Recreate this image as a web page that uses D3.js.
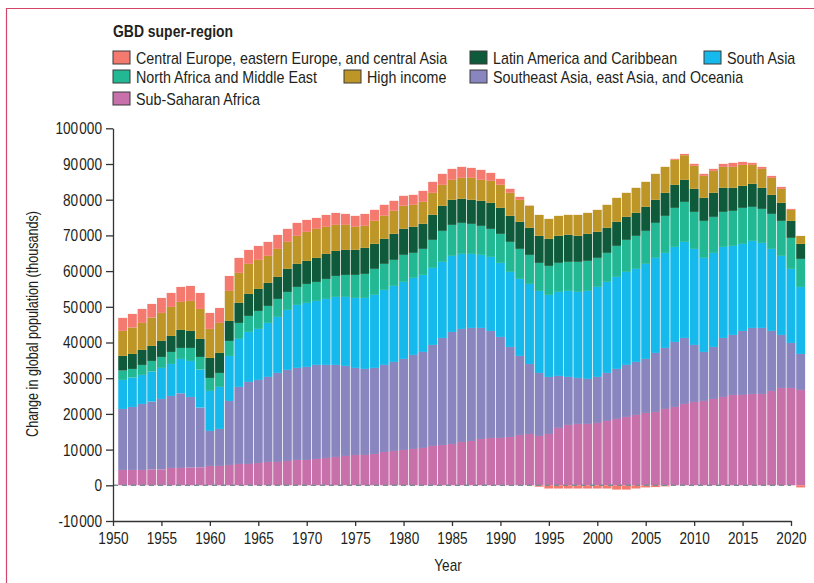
<!DOCTYPE html>
<html>
<head>
<meta charset="utf-8">
<script src="https://cdn.jsdelivr.net/npm/d3@7"></script>
<style>
  body { margin: 0; background: #fff; }
  svg text { font-family: "Liberation Sans", Arial, sans-serif; fill: #231f20; }
</style>
</head>
<body>
<div id="chart"></div>
<script>
// Change in global population by GBD super-region (thousands)
const years = [1951, 1952, 1953, 1954, 1955, 1956, 1957, 1958, 1959, 1960,
    1961, 1962, 1963, 1964, 1965, 1966, 1967, 1968, 1969, 1970,
    1971, 1972, 1973, 1974, 1975, 1976, 1977, 1978, 1979, 1980,
    1981, 1982, 1983, 1984, 1985, 1986, 1987, 1988, 1989, 1990,
    1991, 1992, 1993, 1994, 1995, 1996, 1997, 1998, 1999, 2000,
    2001, 2002, 2003, 2004, 2005, 2006, 2007, 2008, 2009, 2010,
    2011, 2012, 2013, 2014, 2015, 2016, 2017, 2018, 2019, 2020, 2021];

const subSaharanAfrica = [4300, 4300, 4300, 4480, 4480, 4860, 4860, 5040, 5040, 5420,
    5420, 5700, 5980, 5980, 6260, 6540, 6540, 6820, 7100, 7100,
    7380, 7660, 7940, 8220, 8500, 8500, 8780, 9340, 9620, 9900,
    10180, 10460, 11020, 11300, 11580, 12140, 12420, 12980, 13260, 13260,
    13540, 14100, 14380, 13820, 14380, 16070, 16910, 17190, 17190, 17470,
    18030, 18590, 19150, 19710, 20270, 20550, 21390, 21950, 22790, 23350,
    23630, 24190, 24750, 25310, 25310, 25590, 25590, 26430, 27270, 27270, 26710];

const southeastAsia = [17090, 17650, 18490, 18960, 19710, 20170, 20920, 19710, 16720, 9810,
    10370, 17930, 21580, 22980, 23260, 23820, 24940, 25500, 25780, 26060,
    26340, 26060, 25780, 25220, 24380, 24100, 24100, 24380, 24940, 25500,
    26340, 26900, 28300, 29980, 31380, 31660, 31660, 31100, 29980, 28300,
    25220, 22140, 19610, 17650, 15970, 14570, 13450, 12890, 12610, 12890,
    13450, 14010, 14570, 14850, 15130, 16530, 17090, 18210, 18490, 15970,
    13730, 14570, 16530, 16810, 17930, 18490, 18490, 16810, 14850, 12610, 10090];

const southAsia = [8130, 8220, 8130, 8410, 8690, 8970, 9620, 10090, 10650, 11210,
    11770, 12610, 13450, 14010, 14290, 15130, 15690, 16810, 17650, 17930,
    17930, 18490, 19050, 19330, 19610, 19890, 20460, 21020, 21300, 21580,
    21580, 21580, 21580, 21300, 21300, 21020, 20740, 20460, 20740, 20740,
    21020, 21580, 22420, 22980, 22980, 23540, 24100, 24100, 24660, 25220,
    25500, 25780, 26060, 26060, 26620, 26620, 26620, 26620, 26900, 26900,
    26340, 26340, 25500, 24940, 24380, 24380, 23820, 22980, 22140, 20740, 18770];

const northAfricaMiddleEast = [2620, 2430, 2800, 2990, 3080, 3360, 3080, 3640, 3550, 3640,
    3920, 4200, 4480, 4480, 5040, 4760, 5040, 5040, 5040, 5320,
    5320, 5600, 5880, 6160, 6450, 6730, 7290, 7290, 7290, 7570,
    7010, 7290, 7850, 8690, 8690, 8690, 8410, 8130, 7850, 8130,
    8410, 8410, 8130, 7850, 8130, 8130, 8130, 8410, 8410, 8130,
    8130, 8690, 8970, 9250, 9250, 9810, 10370, 10930, 11210, 10370,
    10370, 10090, 9810, 9810, 10090, 9530, 9530, 9810, 9810, 8690, 7850];

const latinAmerica = [4110, 4200, 4200, 4200, 4480, 4480, 5040, 4760, 5040, 5600,
    5600, 5600, 5600, 6160, 6160, 6450, 6160, 6450, 6450, 6450,
    6730, 7010, 7010, 7010, 7010, 7290, 7010, 7010, 7290, 7290,
    7290, 7010, 7010, 7010, 7010, 6730, 6730, 7010, 7290, 7290,
    7290, 7570, 7570, 7570, 7570, 7570, 7570, 7290, 7570, 7290,
    7010, 6730, 6450, 6450, 6730, 6450, 6450, 6450, 6160, 6450,
    6450, 6730, 6730, 6450, 6160, 6450, 5880, 5320, 5040, 4760, 4200];

const highIncome = [7010, 7380, 7570, 7940, 7850, 8130, 7850, 8410, 8410, 8130,
    8410, 8410, 8410, 8410, 8130, 7570, 7850, 7570, 7850, 8130,
    8130, 7570, 7290, 7010, 6450, 6160, 6450, 6450, 6450, 6450,
    6160, 6160, 6160, 5880, 5600, 5880, 6160, 5880, 6160, 6450,
    6450, 6160, 6160, 5880, 5600, 5600, 5600, 5880, 5880, 6160,
    6450, 6730, 6730, 7010, 7010, 7290, 7290, 7010, 6910, 6450,
    6160, 6160, 5880, 5880, 5880, 5320, 5320, 4760, 3920, 3080, 2240];

const centralEurope = [3640, 3830, 3920, 3830, 4200, 3920, 4200, 4200, 4480, 4480,
    4200, 4200, 4200, 3920, 3920, 3920, 3920, 3640, 3640, 3360,
    3080, 3360, 3360, 3080, 3080, 3360, 3080, 3080, 2800, 2800,
    2800, 3080, 3080, 3080, 3080, 3080, 2800, 2800, 2240, 1680,
    1120, 840, 100, -400, -900, -900, -900, -900, -900, -900,
    -900, -1200, -1200, -900, -600, -500, -300, 280, 370, 560,
    560, 560, 840, 1120, 840, 560, 560, 560, 560, 280, -600];

const yTicks = [-10000, 0, 10000, 20000, 30000, 40000, 50000, 60000, 70000, 80000, 90000, 100000];
const xTicks = [1950, 1955, 1960, 1965, 1970, 1975, 1980, 1985, 1990, 1995, 2000, 2005, 2010, 2015, 2020];

// stacking order, bottom to top
const keys = ["ssa", "sea", "sa", "name", "lac", "hi", "ce"];
const seriesData = [subSaharanAfrica, southeastAsia, southAsia, northAfricaMiddleEast, latinAmerica, highIncome, centralEurope];
const colors = {
    ce: "#f47a6f", lac: "#0e5a3a", sa: "#16b9ec", name: "#22b894",
    hi: "#bd9627", sea: "#8985bf", ssa: "#c870aa"
};
const labels = {
    ce: "Central Europe, eastern Europe, and central Asia",
    lac: "Latin America and Caribbean",
    sa: "South Asia",
    name: "North Africa and Middle East",
    hi: "High income",
    sea: "Southeast Asia, east Asia, and Oceania",
    ssa: "Sub-Saharan Africa"
};

const table = years.map((yr, i) => {
    const row = { year: yr };
    keys.forEach((k, j) => { row[k] = seriesData[j][i]; });
    return row;
});

// no condensed font installed, so squeeze the glyphs a little
function condense(sel, ratio) {
    sel.each(function () {
        const w = this.getComputedTextLength();
        d3.select(this)
            .attr("textLength", w * ratio)
            .attr("lengthAdjust", "spacingAndGlyphs");
    });
}

const W = 814, H = 583;
const svg = d3.select("#chart").append("svg")
    .attr("width", W)
    .attr("height", H);

// journal frame
svg.append("path")
    .attr("d", `M6.5,${H} V8.5 H${W}`)
    .attr("fill", "none")
    .attr("stroke", "#d4456a")
    .attr("stroke-width", 1.2);

const x = d3.scaleLinear().domain([1950, 2020]).range([113, 791]);
const y = d3.scaleLinear().domain([-10000, 100000]).range([521, 128.3]);

const xb = d3.scaleBand()
    .domain(years)
    .range([x(1950.5), x(2021.5)])
    .paddingInner(0.08)
    .paddingOuter(0.04);

const stack = d3.stack()
    .keys(keys)
    .order(d3.stackOrderNone)
    .offset(d3.stackOffsetDiverging);

const layers = svg.append("g")
    .selectAll("g")
    .data(stack(table))
    .enter()
    .append("g")
    .attr("fill", d => colors[d.key]);

layers.selectAll("rect")
    .data(d => d)
    .enter()
    .append("rect")
    .attr("x", d => xb(d.data.year))
    .attr("y", d => y(d[1]))
    .attr("width", xb.bandwidth())
    .attr("height", d => Math.max(0, y(d[0]) - y(d[1])));

// dashed zero line
svg.append("line")
    .attr("x1", x(1950))
    .attr("x2", x(2020))
    .attr("y1", y(0))
    .attr("y2", y(0))
    .attr("stroke", "#7d8d96")
    .attr("stroke-width", 1.6)
    .attr("stroke-dasharray", "5,4");

const locale = d3.formatLocale({ decimal: ".", thousands: "\u200A", grouping: [3], currency: ["", ""], minus: "-" });
const fmt = locale.format(",d");

const yAxis = svg.append("g")
    .attr("transform", `translate(${x(1950)},0)`)
    .call(d3.axisLeft(y).tickValues(yTicks).tickFormat(fmt).tickSize(7).tickSizeOuter(0).tickPadding(4));

const xAxis = svg.append("g")
    .attr("transform", `translate(0,${y(-10000)})`)
    .call(d3.axisBottom(x).tickValues(xTicks).tickFormat(d3.format("d")).tickSize(5).tickSizeOuter(0).tickPadding(6));

[yAxis, xAxis].forEach(a => {
    a.selectAll("path, line").attr("stroke", "#333").attr("stroke-width", 1.3);
    a.selectAll("text").style("font-size", "17px").attr("fill", "#231f20");
    condense(a.selectAll("text"), 0.8);
});

svg.append("text")
    .attr("x", 448)
    .attr("y", 571)
    .attr("text-anchor", "middle")
    .style("font-size", "17px")
    .text("Year")
    .call(condense, 0.8);

svg.append("text")
    .attr("transform", "translate(38,324) rotate(-90)")
    .attr("text-anchor", "middle")
    .style("font-size", "17px")
    .text("Change in global population (thousands)")
    .call(condense, 0.74);

// legend
svg.append("text")
    .attr("x", 113)
    .attr("y", 37)
    .style("font-size", "17px")
    .style("font-weight", "bold")
    .text("GBD super-region")
    .call(condense, 0.82);

const legendItems = [
    { key: "ce", x: 113, row: 0 },
    { key: "lac", x: 470, row: 0 },
    { key: "sa", x: 704, row: 0 },
    { key: "name", x: 113, row: 1 },
    { key: "hi", x: 344, row: 1 },
    { key: "sea", x: 470, row: 1 },
    { key: "ssa", x: 113, row: 2 }
];
const rowY = [51, 70, 92];

const leg = svg.append("g")
    .selectAll("g")
    .data(legendItems)
    .enter()
    .append("g")
    .attr("transform", d => `translate(${d.x},${rowY[d.row]})`);

leg.append("rect")
    .attr("width", 17)
    .attr("height", 13)
    .attr("fill", d => colors[d.key])
    .attr("stroke", "#3a3a3a")
    .attr("stroke-width", 1);

leg.append("text")
    .attr("x", 23)
    .attr("y", 12.5)
    .style("font-size", "17px")
    .text(d => labels[d.key])
    .call(condense, 0.84);
</script>
</body>
</html>
